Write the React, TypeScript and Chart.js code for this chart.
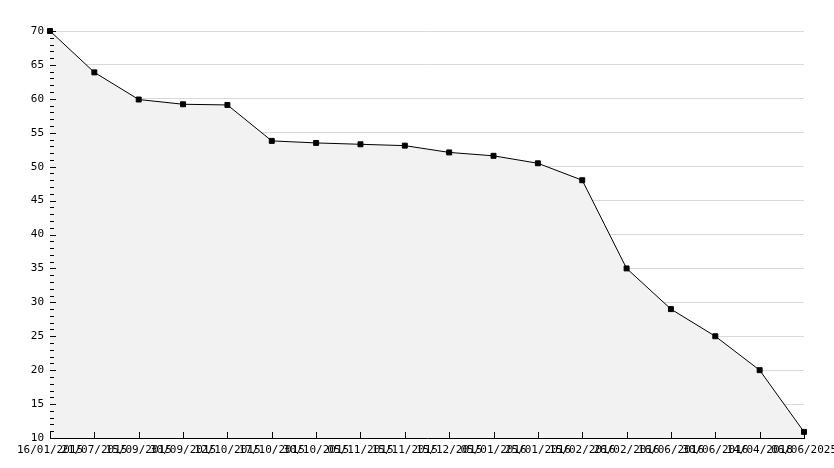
import React, { useEffect, useRef } from "react";
import { Chart, registerables } from "chart.js";

Chart.register(...registerables);

const categories = [
  "16/01/2015", "21/07/2015", "15/09/2015", "30/09/2015", "12/10/2015", "17/10/2015",
  "30/10/2015", "05/11/2015", "15/11/2015", "15/12/2015", "05/01/2016", "25/01/2016",
  "15/02/2016", "26/02/2016", "16/06/2016", "30/06/2016", "14/04/2018", "06/06/2025",
];
const values = [70, 63.9, 59.9, 59.2, 59.1, 53.8, 53.5, 53.3, 53.1, 52.1, 51.6, 50.5, 48.0, 35.0, 29.0, 25.0, 20.0, 10.9];
const yMin = 10;
const yMax = 70;
const yMajorStep = 5;

const FONT = "'DejaVu Sans Mono', monospace";

const innerTicks = {
  id: "innerTicks",
  afterDatasetsDraw(chart: any) {
    const { ctx, chartArea } = chart;
    const x = chart.scales.x;
    const y = chart.scales.y;
    ctx.save();
    ctx.strokeStyle = "#000";
    ctx.lineWidth = 1;
    ctx.beginPath();
    for (let v = yMin; v <= yMax; v += 1) {
      const py = Math.round(y.getPixelForValue(v)) + 0.5;
      const len = v % yMajorStep === 0 ? 6 : 4;
      ctx.moveTo(chartArea.left, py);
      ctx.lineTo(chartArea.left + len, py);
    }
    for (let i = 0; i < categories.length; i++) {
      const px = Math.round(x.getPixelForValue(i)) + 0.5;
      ctx.moveTo(px, chartArea.bottom);
      ctx.lineTo(px, chartArea.bottom - 6);
    }
    ctx.stroke();
    ctx.restore();
  },
};

export default function App() {
  const ref = useRef<HTMLCanvasElement | null>(null);
  useEffect(() => {
    document.body.style.margin = "0";
    const canvas = ref.current!;
    const chart = new Chart(canvas, {
      type: "line",
      data: {
        labels: categories,
        datasets: [
          {
            data: values,
            borderColor: "#000",
            borderWidth: 1,
            backgroundColor: "#f2f2f2",
            fill: "start",
            tension: 0,
            pointRadius: 3.5,
            pointStyle: "rect",
            pointBackgroundColor: "#000",
            pointBorderColor: "#000",
            pointBorderWidth: 1,
            clip: false as any,
          },
        ],
      },
      options: {
        responsive: false,
        animation: false,
        layout: { padding: { top: 31, right: 30, left: 0, bottom: 0 } },
        plugins: { legend: { display: false }, tooltip: { enabled: false } },
        scales: {
          x: {
            type: "category",
            offset: false,
            grid: { display: false, drawTicks: false },
            border: { display: true, color: "#000", width: 1 },
            ticks: {
              autoSkip: false,
              maxRotation: 0,
              minRotation: 0,
              padding: 6,
              color: "#000",
              font: { family: FONT, size: 11 },
            },
            afterFit: (s: any) => {
              s.height = 30;
              s.paddingLeft = 0;
              s.paddingRight = 0;
            },
          },
          y: {
            min: yMin,
            max: yMax,
            ticks: {
              stepSize: yMajorStep,
              padding: 6,
              color: "#000",
              font: { family: FONT, size: 11 },
            },
            grid: { color: "#d9d9d9", drawTicks: false },
            border: { display: true, color: "#000", width: 1 },
            afterFit: (s: any) => {
              s.width = 50;
              s.paddingTop = 0;
              s.paddingBottom = 0;
            },
          },
        },
      },
      plugins: [innerTicks],
    });
    return () => chart.destroy();
  }, []);
  return <canvas ref={ref} width={834} height={468} style={{ display: "block" }} />;
}
